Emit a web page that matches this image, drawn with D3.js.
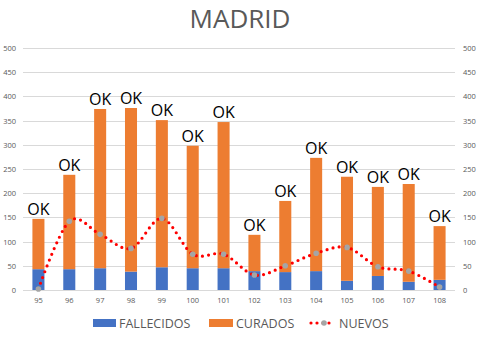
<!DOCTYPE html>
<html><head><meta charset="utf-8">
<script src="https://cdn.jsdelivr.net/npm/d3@7"></script>
<style>body{margin:0;background:#fff}svg{display:block}</style>
</head><body><svg id="c" width="481" height="338"></svg>
<script>
const categories = ["95","96","97","98","99","100","101","102","103","104","105","106","107","108"];
const fallecidos = [43,43,45,38,47,45,45,39,37,39,19,29,17,21];
const curados = [104,195,329,338,304,253,302,75,147,234,215,184,202,111];
const nuevos = [2,142,115,86,148,74,74,31,50,76,88,48,39,6];
const barLabels = ["OK","OK","OK","OK","OK","OK","OK","OK","OK","OK","OK","OK","OK","OK"];
const yTicks = [0,50,100,150,200,250,300,350,400,450,500];

const svg = d3.select("#c");
const x = d3.scaleBand().domain(categories).range([23,455]).paddingInner(0.61).paddingOuter(0.305);
const y = d3.scaleLinear().domain([0,500]).range([290,48]);
const grey = "#595959";

svg.append("text").attr("x",240).attr("y",28).attr("text-anchor","middle")
  .attr("font-family","Open Sans").attr("font-size",26).attr("fill",grey).text("MADRID");

svg.append("g").selectAll("line").data(yTicks).join("line")
  .attr("x1",23).attr("x2",455).attr("y1",d=>Math.round(y(d))+0.5).attr("y2",d=>Math.round(y(d))+0.5)
  .attr("stroke","#d9d9d9").attr("stroke-width",1);

const left = d3.axisLeft(y).tickValues(yTicks).tickSize(0).tickPadding(0);
svg.append("g").attr("transform","translate(16,0)").call(left)
  .call(g=>{g.select(".domain").remove();g.selectAll("text").attr("font-family","Open Sans").attr("font-size",7.5).attr("fill",grey);});
const right = d3.axisRight(y).tickValues(yTicks).tickSize(0).tickPadding(0);
svg.append("g").attr("transform","translate(463,0)").call(right)
  .call(g=>{g.select(".domain").remove();g.selectAll("text").attr("font-family","Open Sans").attr("font-size",7.5).attr("fill",grey);});
const bottom = d3.axisBottom(x).tickSize(0).tickPadding(8);
svg.append("g").attr("transform","translate(0,290)").call(bottom)
  .call(g=>{g.select(".domain").remove();g.selectAll("text").attr("font-family","Open Sans").attr("font-size",7.5).attr("fill",grey);});

const data = categories.map((c,i)=>({c,f:fallecidos[i],cu:curados[i],n:nuevos[i],l:barLabels[i]}));
svg.append("g").selectAll("rect").data(data).join("rect")
  .attr("x",d=>x(d.c)).attr("width",x.bandwidth())
  .attr("y",d=>y(d.f)).attr("height",d=>y(0)-y(d.f)).attr("fill","#4472c4");
svg.append("g").selectAll("rect").data(data).join("rect")
  .attr("x",d=>x(d.c)).attr("width",x.bandwidth())
  .attr("y",d=>y(d.f+d.cu)).attr("height",d=>y(d.f)-y(d.f+d.cu)).attr("fill","#ed7d31");
svg.append("g").selectAll("text").data(data).join("text")
  .attr("x",d=>x(d.c)+x.bandwidth()/2).attr("y",d=>y(d.f+d.cu)-4)
  .attr("text-anchor","middle").attr("font-family","Open Sans").attr("font-size",16).attr("fill","#000").text(d=>d.l);

const cx = d=>x(d.c)+x.bandwidth()/2;
const line = d3.line().x(cx).y(d=>y(d.n)).curve(d3.curveCardinal.tension(0));
svg.append("path").datum(data).attr("d",line).attr("fill","none").attr("stroke","#ff0000")
  .attr("stroke-width",3.2).attr("stroke-linecap","round").attr("stroke-dasharray","0 6.2");
svg.append("g").selectAll("circle").data(data).join("circle")
  .attr("cx",cx).attr("cy",d=>y(d.n)).attr("r",2.8).attr("fill","#a5a5a5");

// legend
const lg = svg.append("g").attr("font-family","Open Sans").attr("font-size",12.5).attr("fill",grey);
lg.append("rect").attr("x",93).attr("y",319).attr("width",23).attr("height",8).attr("fill","#4472c4");
lg.append("text").attr("x",119).attr("y",328).text("FALLECIDOS");
lg.append("rect").attr("x",209).attr("y",319).attr("width",24).attr("height",8).attr("fill","#ed7d31");
lg.append("text").attr("x",236).attr("y",328).text("CURADOS");
lg.append("line").attr("x1",311).attr("x2",335).attr("y1",323).attr("y2",323).attr("stroke","#ff0000")
  .attr("stroke-width",3.2).attr("stroke-linecap","round").attr("stroke-dasharray","0 6");
lg.append("circle").attr("cx",324).attr("cy",323).attr("r",2.8).attr("fill","#a5a5a5");
lg.append("text").attr("x",339).attr("y",328).text("NUEVOS");
</script></body></html>
